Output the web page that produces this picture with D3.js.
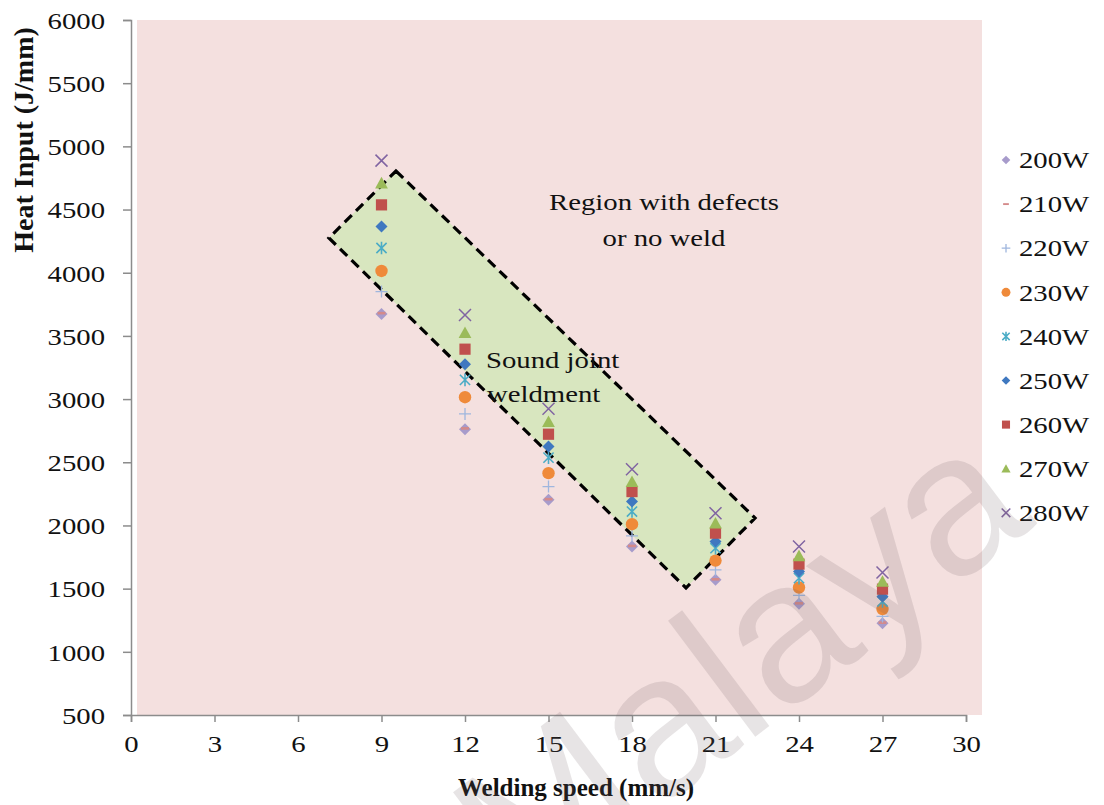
<!DOCTYPE html>
<html>
<head>
<meta charset="utf-8">
<script src="https://cdn.jsdelivr.net/npm/d3@7/dist/d3.min.js"></script>
<style>
  html, body { margin: 0; padding: 0; background: #fff; }
  svg { display: block; font-family: "Liberation Serif", "Times New Roman", serif; }
  .wide-l { transform-box: fill-box; transform-origin: 0% 50%; transform: scaleX(1.25); }
  .wide-r { transform-box: fill-box; transform-origin: 100% 50%; transform: scaleX(1.25); }
  .wide-c { transform-box: fill-box; transform-origin: 50% 50%; transform: scaleX(1.25); }
</style>
</head>
<body>
<svg id="chart" width="1104" height="805"></svg>
<script>
// Welding speed (mm/s) at which each heat input was measured
const speeds = [9, 12, 15, 18, 21, 24, 27];

// Laser power levels
const powers = ["200W", "210W", "220W", "230W", "240W", "250W", "260W", "270W", "280W"];

// Heat input (J/mm) for each power level, one value per welding speed
const heat200 = [3674, 2762, 2203, 1833, 1570, 1380, 1227];
const heat210 = [3680, 2768, 2208, 1838, 1574, 1384, 1231];
const heat220 = [3851, 2883, 2308, 1918, 1649, 1446, 1280];
const heat230 = [4014, 3015, 2414, 2010, 1722, 1509, 1338];
const heat240 = [4196, 3152, 2537, 2110, 1820, 1583, 1398];
const heat250 = [4365, 3276, 2624, 2189, 1873, 1635, 1438];
const heat260 = [4537, 3395, 2722, 2268, 1939, 1694, 1496];
const heat270 = [4710, 3526, 2822, 2347, 2018, 1760, 1557];
const heat280 = [4887, 3666, 2923, 2445, 2097, 1833, 1628];

// Axis ticks
const xTicks = [0, 3, 6, 9, 12, 15, 18, 21, 24, 27, 30];
const yTicks = [500, 1000, 1500, 2000, 2500, 3000, 3500, 4000, 4500, 5000, 5500, 6000];

// Corners of the sound-joint process window (speed, heat input)
const windowSpeed = [9.52, 22.42, 19.94, 7.11];
const windowHeat  = [4805, 2059, 1505, 4275];

const seriesValues = [heat200, heat210, heat220, heat230, heat240, heat250, heat260, heat270, heat280];
const seriesColors = ["#a79bcb", "#d48a8a", "#9fb6de", "#ef8a3a", "#4bacc6", "#3f78c0", "#c0504d", "#9bbb59", "#8064a2"];
const seriesShapes = ["diamond", "dash", "plus", "circle", "star", "diamond", "square", "triangle", "cross"];

const svg = d3.select("#chart");

const x = d3.scaleLinear().domain([0, 30]).range([131, 966]);
const y = d3.scaleLinear().domain([500, 6000]).range([715, 20]);

// Plot area background
svg.append("rect")
  .attr("x", 137).attr("y", y(6000))
  .attr("width", 982 - 137).attr("height", y(500) - y(6000))
  .attr("fill", "#f4e0df");

// Process window
svg.append("polygon")
  .attr("points", windowSpeed.map((s, i) => [x(s), y(windowHeat[i])].join(",")).join(" "))
  .attr("fill", "#d8e6bf")
  .attr("stroke", "#000")
  .attr("stroke-width", 3.2)
  .attr("stroke-dasharray", "10,6")
  .attr("stroke-linejoin", "miter");

// Axes
const axisColor = "#8c8c8c";
const xAxis = svg.append("g")
  .attr("transform", `translate(0,${y(500)})`)
  .call(d3.axisBottom(x).tickValues(xTicks).tickSize(7).tickPadding(14).tickFormat(d3.format("d")));
const yAxis = svg.append("g")
  .attr("transform", `translate(${x(0)},0)`)
  .call(d3.axisLeft(y).tickValues(yTicks).tickSize(8).tickPadding(18).tickFormat(d3.format("d")));
[xAxis, yAxis].forEach(a => {
  a.select(".domain").attr("stroke", axisColor).attr("stroke-width", 1.5);
  a.selectAll(".tick line").attr("stroke", axisColor).attr("stroke-width", 1.5);
  a.selectAll(".tick text")
    .attr("fill", "#111")
    .style("font-family", "'Liberation Serif', 'Times New Roman', serif")
    .style("font-size", "23px");
});
xAxis.selectAll(".tick text").attr("class", "wide-c");
yAxis.selectAll(".tick text").attr("class", "wide-r").attr("dy", "0.36em");

// Marker drawing
function drawMarker(g, shape, color, s) {
  const h = 6 * s;
  switch (shape) {
    case "diamond":
      g.append("path").attr("d", `M0,${-h}L${h},0L0,${h}L${-h},0Z`).attr("fill", color); break;
    case "square":
      g.append("rect").attr("x", -5.6 * s).attr("y", -5.6 * s).attr("width", 11.2 * s).attr("height", 11.2 * s).attr("fill", color); break;
    case "triangle":
      g.append("path").attr("d", `M0,${-6.2 * s}L${6.4 * s},${5.4 * s}L${-6.4 * s},${5.4 * s}Z`).attr("fill", color); break;
    case "circle":
      g.append("circle").attr("r", 6.2 * s).attr("fill", color); break;
    case "dash":
      g.append("line").attr("x1", -4 * s).attr("x2", 4 * s).attr("y1", 0).attr("y2", 0)
        .attr("stroke", color).attr("stroke-width", 2.6 * s); break;
    case "plus":
      g.append("path").attr("d", `M${-h},0H${h}M0,${-h}V${h}`).attr("stroke", color).attr("stroke-width", 1.3).attr("fill", "none"); break;
    case "cross":
      g.append("path").attr("d", `M${-h},${-h}L${h},${h}M${h},${-h}L${-h},${h}`).attr("stroke", color).attr("stroke-width", 1.5).attr("fill", "none"); break;
    case "star": {
      const k = h * 0.85;
      g.append("path").attr("d", `M${-k},${-k}L${k},${k}M${k},${-k}L${-k},${k}M0,${-h * 1.05}V${h * 1.05}`)
        .attr("stroke", color).attr("stroke-width", 1.6).attr("fill", "none"); break;
    }
  }
}

// Data points, one group per power level
const marks = svg.append("g");
seriesValues.forEach((vals, si) => {
  const g = marks.append("g");
  vals.forEach((v, i) => {
    const m = g.append("g").attr("transform", `translate(${x(speeds[i])},${y(v)})`);
    drawMarker(m, seriesShapes[si], seriesColors[si], 1);
  });
});

// Legend
const legend = svg.append("g");
powers.forEach((p, i) => {
  const ly = 160 + i * 44.1;
  const m = legend.append("g").attr("transform", `translate(1006,${ly})`);
  drawMarker(m, seriesShapes[i], seriesColors[i], 0.72);
  legend.append("text").attr("class", "wide-l")
    .attr("x", 1019).attr("y", ly).attr("dy", "0.36em")
    .attr("font-size", 23).attr("fill", "#111").text(p);
});

// Region labels
const notes = svg.append("g").attr("font-size", 23).attr("fill", "#111");
notes.append("text").attr("class", "wide-c").attr("x", 664).attr("y", 210).attr("text-anchor", "middle").text("Region with defects");
notes.append("text").attr("class", "wide-c").attr("x", 664).attr("y", 246).attr("text-anchor", "middle").text("or no weld");
notes.append("text").attr("class", "wide-l").attr("x", 486).attr("y", 368).text("Sound joint");
notes.append("text").attr("class", "wide-l").attr("x", 487).attr("y", 402).text("weldment");

// Axis titles
svg.append("text")
  .attr("x", 576).attr("y", 796).attr("text-anchor", "middle")
  .attr("font-size", 25).attr("font-weight", "bold").attr("fill", "#111")
  .text("Welding speed (mm/s)");
svg.append("text")
  .attr("transform", "translate(33,140) rotate(-90)")
  .attr("text-anchor", "middle")
  .attr("font-size", 28).attr("font-weight", "bold").attr("fill", "#111")
  .text("Heat Input (J/mm)");

// Watermark
svg.append("text")
  .attr("transform", "translate(738,662) rotate(-37)")
  .attr("text-anchor", "middle").attr("dy", "0.35em")
  .style("font-family", "'Liberation Sans', Arial, sans-serif")
  .attr("font-size", 200)
  .attr("fill", "rgba(115,95,100,0.17)")
  .text("Malaya");
</script>
</body>
</html>
